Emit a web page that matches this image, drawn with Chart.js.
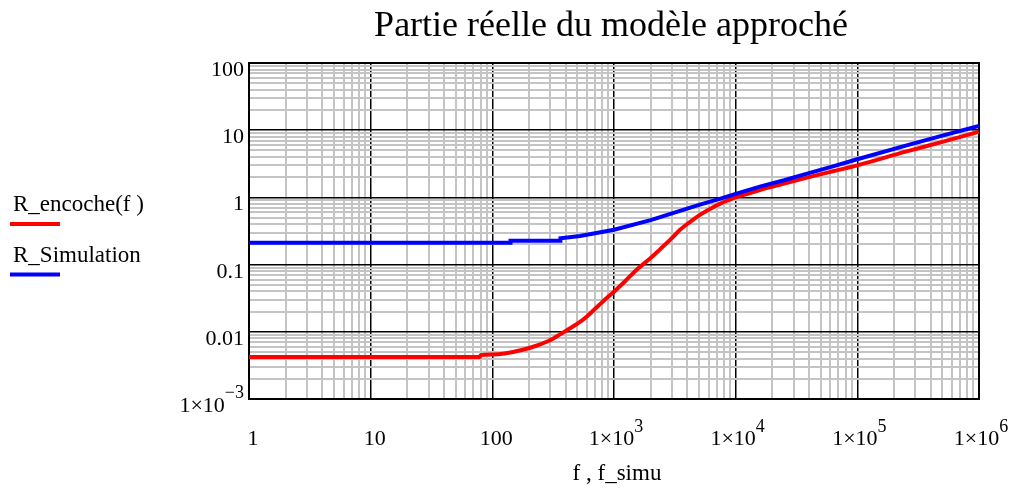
<!DOCTYPE html>
<html>
<head>
<meta charset="utf-8">
<script src="https://cdn.jsdelivr.net/npm/chart.js@4/dist/chart.umd.min.js"></script>
<style>
  html, body { margin: 0; padding: 0; background: #fff; }
  #c { display: block; }
</style>
</head>
<body>
<canvas id="c" width="1014" height="489"></canvas>
<script>
// ---- Data ----
const titleText = "Partie réelle du modèle approché";
const xAxisTitle = "f , f_simu";
const seriesNames = ["R_encoche(f )", "R_Simulation"];

const fEncoche = [1, 79, 80, 100, 130, 178, 230, 280, 340, 410, 500, 596, 700, 815, 1000, 1250, 1560, 2000, 2400, 3000, 3490, 4200, 5080, 6200, 7400, 8600, 10000, 12500, 15800, 25000, 40000, 63000, 100000, 250000, 500000, 1000000];
const rEncoche = [0.0042, 0.0042, 0.0045, 0.0046, 0.0048, 0.0054, 0.0062, 0.0071, 0.0086, 0.0106, 0.0132, 0.0168, 0.022, 0.0285, 0.0395, 0.058, 0.086, 0.125, 0.17, 0.25, 0.33, 0.43, 0.55, 0.68, 0.80, 0.90, 1.0, 1.13, 1.29, 1.6, 2.0, 2.45, 3.0, 4.8, 6.7, 9.5];

const fSimu = [1, 140, 141, 360, 363, 430, 525, 700, 1000, 2000, 5080, 7400, 10000, 15800, 25000, 40000, 63000, 100000, 250000, 500000, 1000000];
const rSimu = [0.212, 0.212, 0.227, 0.227, 0.246, 0.255, 0.267, 0.292, 0.33, 0.46, 0.78, 0.95, 1.13, 1.45, 1.8, 2.3, 2.9, 3.7, 5.9, 8.3, 11.6];

// tick labels: [value, base text, exponent text]
const xTickValues = [1, 10, 100, 1000, 10000, 100000, 1000000];
const xTickBase   = ["1", "10", "100", "1×10", "1×10", "1×10", "1×10"];
const xTickExp    = ["", "", "", "3", "4", "5", "6"];
const yTickValues = [0.001, 0.01, 0.1, 1, 10, 100];
const yTickBase   = ["1×10", "0.01", "0.1", "1", "10", "100"];
const yTickExp    = ["−3", "", "", "", "", ""];

// ---- helpers ----
function logTicks(minExp, maxExp) {
  const out = [];
  for (let e = minExp; e < maxExp; e++) {
    for (let m = 1; m <= 9; m++) out.push(+(m * Math.pow(10, e)).toPrecision(6));
  }
  out.push(Math.pow(10, maxExp));
  return out;
}
function isDecade(v) {
  const l = Math.log10(v);
  return Math.abs(l - Math.round(l)) < 1e-9;
}
const FONT = "'Liberation Serif', 'Times New Roman', serif";
const BASE_FONT = "22px " + FONT;
const EXP_FONT = "18px " + FONT;

function drawExpLabel(ctx, base, exp, x, baseline, align, expRaise) {
  ctx.font = BASE_FONT;
  const wb = ctx.measureText(base).width;
  ctx.font = EXP_FONT;
  const we = exp ? ctx.measureText(exp).width : 0;
  const total = wb + we;
  let start = align === 'right' ? x - total : x - total / 2;
  ctx.textAlign = 'left';
  ctx.textBaseline = 'alphabetic';
  ctx.font = BASE_FONT;
  ctx.fillText(base, start, baseline);
  if (exp) {
    ctx.font = EXP_FONT;
    ctx.fillText(exp, start + wb, baseline - expRaise);
  }
}

const overlay = {
  id: 'overlay',
  beforeDatasetsDraw(chart) {
    const ctx = chart.ctx, a = chart.chartArea;
    ctx.save();
    ctx.strokeStyle = '#000';
    ctx.lineWidth = 2;
    ctx.strokeRect(a.left, a.top, a.right - a.left, a.bottom - a.top);
    ctx.restore();
  },
  afterDraw(chart) {
    const ctx = chart.ctx, a = chart.chartArea;
    const xs = chart.scales.x, ys = chart.scales.y;
    ctx.save();
    ctx.fillStyle = '#000';
    // tick labels
    xTickValues.forEach((v, i) => {
      const px = xs.getPixelForValue(v);
      const off = xTickExp[i] ? 2 : 4;
      drawExpLabel(ctx, xTickBase[i], xTickExp[i], px + off, a.bottom + 46, 'center', 13);
    });
    yTickValues.forEach((v, i) => {
      const py = ys.getPixelForValue(v);
      drawExpLabel(ctx, yTickBase[i], yTickExp[i], a.left - 5, py + 13, 'right', 14);
    });
    // title
    ctx.font = "36px " + FONT;
    ctx.textAlign = 'center';
    ctx.textBaseline = 'alphabetic';
    ctx.fillText(titleText, 611, 36);
    // x axis title
    ctx.font = "23px " + FONT;
    ctx.fillText(xAxisTitle, 617, 480);
    // legend
    ctx.textAlign = 'left';
    const colors = ['#ff0000', '#0000ff'];
    const textY = [211, 262];
    const lineY = [224, 274.5];
    for (let i = 0; i < 2; i++) {
      ctx.fillStyle = '#000';
      ctx.fillText(seriesNames[i], 13, textY[i]);
      ctx.strokeStyle = colors[i];
      ctx.lineWidth = 4;
      ctx.beginPath();
      ctx.moveTo(10, lineY[i]);
      ctx.lineTo(60, lineY[i]);
      ctx.stroke();
    }
    ctx.restore();
  }
};

const gridOpts = {
  drawTicks: false,
  color: (c) => (c.tick && isDecade(c.tick.value)) ? '#000000' : '#c4c4c4',
  lineWidth: (c) => (c.tick && isDecade(c.tick.value)) ? 1.5 : 2
};

new Chart(document.getElementById('c'), {
  type: 'scatter',
  data: {
    datasets: [
      {
        label: seriesNames[1],
        data: fSimu.map((f, i) => ({x: f, y: rSimu[i]})),
        showLine: true,
        borderColor: '#0000ff',
        backgroundColor: '#0000ff',
        borderWidth: 4,
        pointRadius: 0,
        tension: 0
      },
      {
        label: seriesNames[0],
        data: fEncoche.map((f, i) => ({x: f, y: rEncoche[i]})),
        showLine: true,
        borderColor: '#ff0000',
        backgroundColor: '#ff0000',
        borderWidth: 4,
        pointRadius: 0,
        cubicInterpolationMode: 'monotone'
      }
    ]
  },
  options: {
    responsive: false,
    animation: false,
    devicePixelRatio: 1,
    layout: { padding: { top: 63, right: 35, left: 0, bottom: 0 } },
    plugins: {
      legend: { display: false },
      title: { display: false },
      tooltip: { enabled: false }
    },
    scales: {
      x: {
        type: 'logarithmic',
        min: 1, max: 1000000,
        afterBuildTicks: (s) => { s.ticks = logTicks(0, 6).map(v => ({value: v})); },
        afterFit: (s) => { s.height = 90; s.paddingLeft = 0; s.paddingRight = 0; },
        grid: gridOpts,
        border: { display: true, color: '#000', width: 2 },
        ticks: { display: false, autoSkip: false }
      },
      y: {
        type: 'logarithmic',
        min: 0.001, max: 100,
        afterBuildTicks: (s) => { s.ticks = logTicks(-3, 2).map(v => ({value: v})); },
        afterFit: (s) => { s.width = 249; s.paddingTop = 0; s.paddingBottom = 0; },
        grid: gridOpts,
        border: { display: true, color: '#000', width: 2 },
        ticks: { display: false, autoSkip: false }
      }
    }
  },
  plugins: [overlay]
});
</script>
</body>
</html>
